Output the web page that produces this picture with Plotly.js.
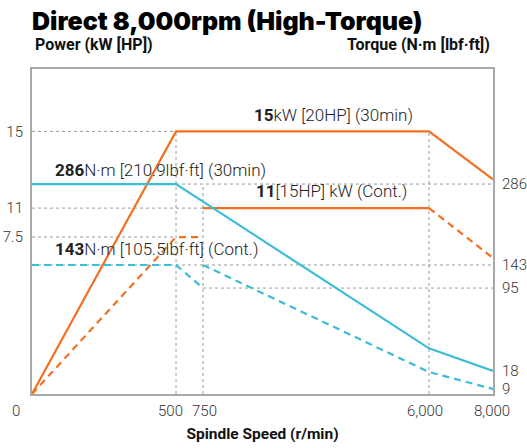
<!DOCTYPE html>
<html>
<head>
<meta charset="utf-8">
<script src="https://cdn.plot.ly/plotly-3.0.1.min.js"></script>
<style>html,body{margin:0;padding:0;background:#fff;}#chart{width:527px;height:448px;}</style>
</head>
<body>
<div id="chart"></div>
<script>
// ---------- data ----------
const speedTicks = [500, 750, 6000, 8000];
const speedTickText = ['500', '750', '6,000', '8,000'];
const powerTicks = [7.5, 11, 15];
const powerTickText = ['7.5', '11', '15'];
const torqueTicks = [9, 18, 95, 143, 286];
const torqueTickText = ['9', '18', '95', '143', '286'];

// Power (kW) 30 min
const power30Speed = [0, 500, 6000, 8000];
const power30Value = [0, 15, 15, 12.5];
// Power continuous (three pieces)
const powerContSpeedA = [0, 500, 750];
const powerContValueA = [0, 7.5, 7.5];
const powerContSpeedB = [750, 6000];
const powerContValueB = [11, 11];
const powerContSpeedC = [6000, 8000];
const powerContValueC = [11, 6.5];
// Torque (N·m) 30 min
const torque30Speed = [0, 500, 6000, 8000];
const torque30Value = [286, 286, 39, 18];
// Torque continuous (two pieces)
const torqueContSpeedA = [0, 500, 750];
const torqueContValueA = [143, 143, 95];
const torqueContSpeedB = [750, 6000, 8000];
const torqueContValueB = [143, 17.5, 9];

// ---------- schematic (piecewise-linear) scales ----------
const speedKnots = [0, 500, 750, 6000, 8000];
const speedPos = [0, 0.3124, 0.3709, 0.8612, 1];
const powerKnots = [0, 7.5, 11, 15, 18.27];
const powerPos = [0, 0.483, 0.572, 0.808, 1];
const torqueKnots = [0, 9, 18, 95, 143, 286, 430];
const torquePos = [0, 0.0154, 0.0708, 0.326, 0.397, 0.646, 1];

function piecewise(k, p) {
  return function (v) {
    for (let i = 0; i < k.length - 1; i++) {
      if (v <= k[i + 1] || i === k.length - 2) {
        return p[i] + (v - k[i]) / (k[i + 1] - k[i]) * (p[i + 1] - p[i]);
      }
    }
  };
}
const xs = piecewise(speedKnots, speedPos);
const ps = piecewise(powerKnots, powerPos);
const ts = piecewise(torqueKnots, torquePos);

const ORANGE = '#f37021';
const CYAN = '#3cbdd6';
const LW = 2.2;
const DASH = '7px,5px';

function tr(sp, vals, scale, color, dash, yaxis) {
  return {
    x: sp.map(xs), y: vals.map(scale), type: 'scatter', mode: 'lines',
    line: {color: color, width: LW, dash: dash || 'solid'},
    yaxis: yaxis, hoverinfo: 'skip', showlegend: false, cliponaxis: false
  };
}

const traces = [
  tr(torqueContSpeedA, torqueContValueA, ts, CYAN, DASH, 'y2'),
  tr(torqueContSpeedB, torqueContValueB, ts, CYAN, DASH, 'y2'),
  tr(torque30Speed, torque30Value, ts, CYAN, 'solid', 'y2'),
  tr(powerContSpeedA, powerContValueA, ps, ORANGE, DASH, 'y'),
  tr(powerContSpeedB, powerContValueB, ps, ORANGE, 'solid', 'y'),
  tr(powerContSpeedC, powerContValueC, ps, ORANGE, DASH, 'y'),
  tr(power30Speed, power30Value, ps, ORANGE, 'solid', 'y'),
];

// ---------- guide lines built from the tick values ----------
const GRID = {color: '#9a9a9a', width: 1, dash: '3px,3px'};
function hseg(x0, x1, y) { return {type: 'line', xref: 'x', yref: 'y', x0: xs(x0), x1: xs(x1), y0: y, y1: y, line: GRID, layer: 'below'}; }
function vseg(x, y0, y1) { return {type: 'line', xref: 'x', yref: 'y', x0: xs(x), x1: xs(x), y0: y0, y1: y1, line: GRID, layer: 'below'}; }
const shapes = [
  hseg(0, 500, ps(15)),
  hseg(0, 750, ps(11)),
  hseg(0, 500, ps(7.5)),
  hseg(0, 8000, ts(286)),
  hseg(0, 8000, ts(143)),
  hseg(750, 8000, ts(95)),
  vseg(500, 0, ps(15)),
  vseg(750, 0, ts(286)),
  vseg(6000, 0, ps(15)),
];

const LABEL_FONT = {family: 'Roboto, sans-serif', size: 17, color: '#222', weight: 300};
function label(text, x, y) {
  return {text: text, xref: 'paper', yref: 'paper', x: x, y: y, xanchor: 'left', yanchor: 'middle',
          showarrow: false, font: LABEL_FONT};
}
const HEAD_FONT = {family: 'Roboto, sans-serif', size: 16, color: '#111', weight: 700};
const TICK_FONT = {family: 'Roboto, sans-serif', size: 15, color: '#333', weight: 300};

const annotations = [
  label('<b>15</b>kW [20HP] (30min)', 0.477, 0.858),
  label('<b>286</b>N·m [210.9lbf·ft] (30min)', 0.0456, 0.689),
  label('<b>11</b>[15HP] kW (Cont.)', 0.482, 0.625),
  label('<b>143</b>N·m [105.5lbf·ft] (Cont.)', 0.0456, 0.446),
  {text: 'Power (kW [HP])', xref: 'paper', yref: 'paper', x: 0.002, y: 1.075, xanchor: 'left', yanchor: 'middle',
   showarrow: false, font: HEAD_FONT},
  {text: 'Torque (N·m [lbf·ft])', xref: 'paper', yref: 'paper', x: 0.998, y: 1.075, xanchor: 'right', yanchor: 'middle',
   showarrow: false, font: HEAD_FONT},
  {text: '0', xref: 'paper', yref: 'paper', x: -0.035, y: -0.052, xanchor: 'center', yanchor: 'middle',
   showarrow: false, font: TICK_FONT},
];
// x tick labels (nudged apart like the reference)
const xLabelShift = [-6, 2, -4, -1];
speedTicks.forEach(function (v, i) {
  annotations.push({text: speedTickText[i], xref: 'x', yref: 'paper', x: xs(v), y: -0.052,
    xanchor: 'center', yanchor: 'middle', xshift: xLabelShift[i], showarrow: false, font: TICK_FONT});
});

const AXLINE = {showline: true, linecolor: '#a8a8a8', linewidth: 2, showgrid: false, zeroline: false, ticks: ''};

const layout = {
  width: 527, height: 448,
  margin: {l: 32, r: 34, t: 69, b: 54, pad: 0},
  paper_bgcolor: '#fff', plot_bgcolor: '#fff',
  showlegend: false,
  title: {text: 'Direct 8,000rpm (High-Torque)', xref: 'paper', x: 0, xanchor: 'left',
          yref: 'container', y: 0.953, yanchor: 'middle',
          font: {family: 'Inter, "Liberation Sans", sans-serif', size: 25, color: '#000', weight: 900}},
  xaxis: Object.assign({}, AXLINE, {
    range: [0, 1], mirror: true, fixedrange: true,
    tickmode: 'array', tickvals: speedTicks.map(xs), ticktext: speedTickText, showticklabels: false,
    title: {text: 'Spindle Speed (r/min)', standoff: 33, font: {family: 'Roboto, sans-serif', size: 15.5, color: '#111', weight: 700}},
    automargin: false
  }),
  yaxis: Object.assign({}, AXLINE, {
    range: [0, 1], mirror: true, fixedrange: true,
    tickmode: 'array', tickvals: powerTicks.map(ps), ticktext: powerTickText, tickfont: TICK_FONT,
    ticklabelstandoff: 4, automargin: false
  }),
  yaxis2: Object.assign({}, AXLINE, {
    range: [0, 1], overlaying: 'y', side: 'right', fixedrange: true,
    tickmode: 'array', tickvals: torqueTicks.map(ts), ticktext: torqueTickText, tickfont: TICK_FONT,
    ticklabelstandoff: 4, automargin: false
  }),
  shapes: shapes,
  annotations: annotations
};

Plotly.newPlot('chart', traces, layout, {displayModeBar: false, staticPlot: true});
</script>
</body>
</html>
